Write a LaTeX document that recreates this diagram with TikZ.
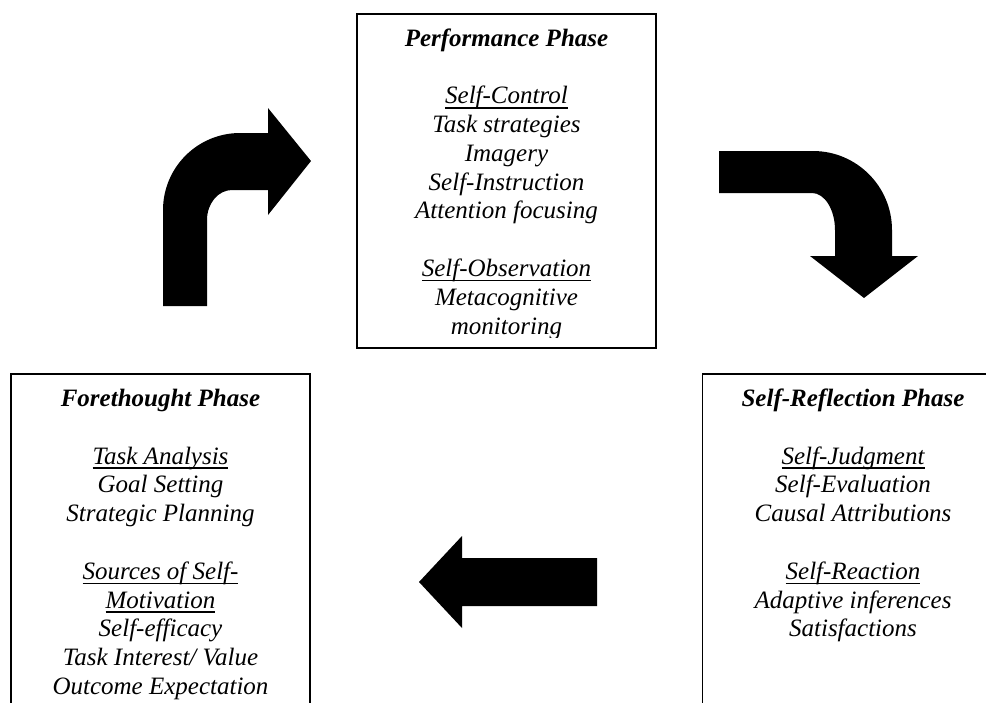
\documentclass[tikz,border=0pt]{standalone}
\usepackage{fontspec}
\setmainfont{Liberation Serif}
\newcommand{\phaseul}[1]{\setbox0=\hbox{#1}\rlap{\rule[-5pt]{\wd0}{1.7pt}}\box0}

\begin{document}
\begin{tikzpicture}[x=1pt,y=-1pt,
    phasebox/.style={line width=1.6pt},
    phasetext/.style={anchor=base,align=center,inner sep=0pt,font=\fontsize{25}{28.8}\selectfont\itshape},
    blockarrow/.style={fill=black}]
    \useasboundingbox (0,0) rectangle (986,702);
    \clip (0,0) rectangle (986,702);
    %Performance phase on top (node sits on the baseline of its last line)
    \draw [phasebox] (357,14) rectangle (656,348);
    \begin{scope}
      \clip (357,14) rectangle (656,337);
      \node [phasetext] (perf) at (506.5,334) {\textbf{Performance Phase}\\[28.8pt]
        \phaseul{Self-Control}\\Task strategies\\Imagery\\Self-Instruction\\Attention focusing\\[28.8pt]
        \phaseul{Self-Observation}\\Metacognitive\\monitoring};
    \end{scope}
    %Forethought phase, bottom left
    \draw [phasebox] (11,374) rectangle (310,712);
    \node [phasetext] (fore) at (160.5,694.5) {\textbf{Forethought Phase}\\[28.8pt]
        \phaseul{Task Analysis}\\Goal Setting\\Strategic Planning\\[28.8pt]
        \phaseul{Sources of Self-}\\\phaseul{Motivation}\\Self-efficacy\\Task Interest/ Value\\Outcome Expectation};
    %Self-reflection phase, bottom right (runs off the page)
    \draw [phasebox] (702.5,374) rectangle (1004,712);
    \node [phasetext] (refl) at (853,636.9) {\textbf{Self-Reflection Phase}\\[28.8pt]
        \phaseul{Self-Judgment}\\Self-Evaluation\\Causal Attributions\\[28.8pt]
        \phaseul{Self-Reaction}\\Adaptive inferences\\Satisfactions};
    %up and right
    \fill [blockarrow] (163,306) -- (163,210) .. controls (163,167.5) and (197.5,133) .. (240,133)
        -- (268,133) -- (268,108) -- (311,161) -- (268,215) -- (268,190) -- (232,190)
        .. controls (218.2,190) and (207,203.4) .. (207,220) -- (207,306) -- cycle;
    %right and down
    \fill [blockarrow] (719,151) -- (813,151) .. controls (856.6,151) and (892,186.4) .. (892,230)
        -- (892,256) -- (918,256) -- (864,298) -- (810,256) -- (835,256) -- (835,230)
        .. controls (835,209.6) and (824.7,193) .. (812,193) -- (719,193) -- cycle;
    %back to the left
    \fill [blockarrow] (597,558) -- (462,558) -- (462,536) -- (419,582) -- (462,628) -- (462,606) -- (597,606) -- cycle;
\end{tikzpicture}
\end{document}
